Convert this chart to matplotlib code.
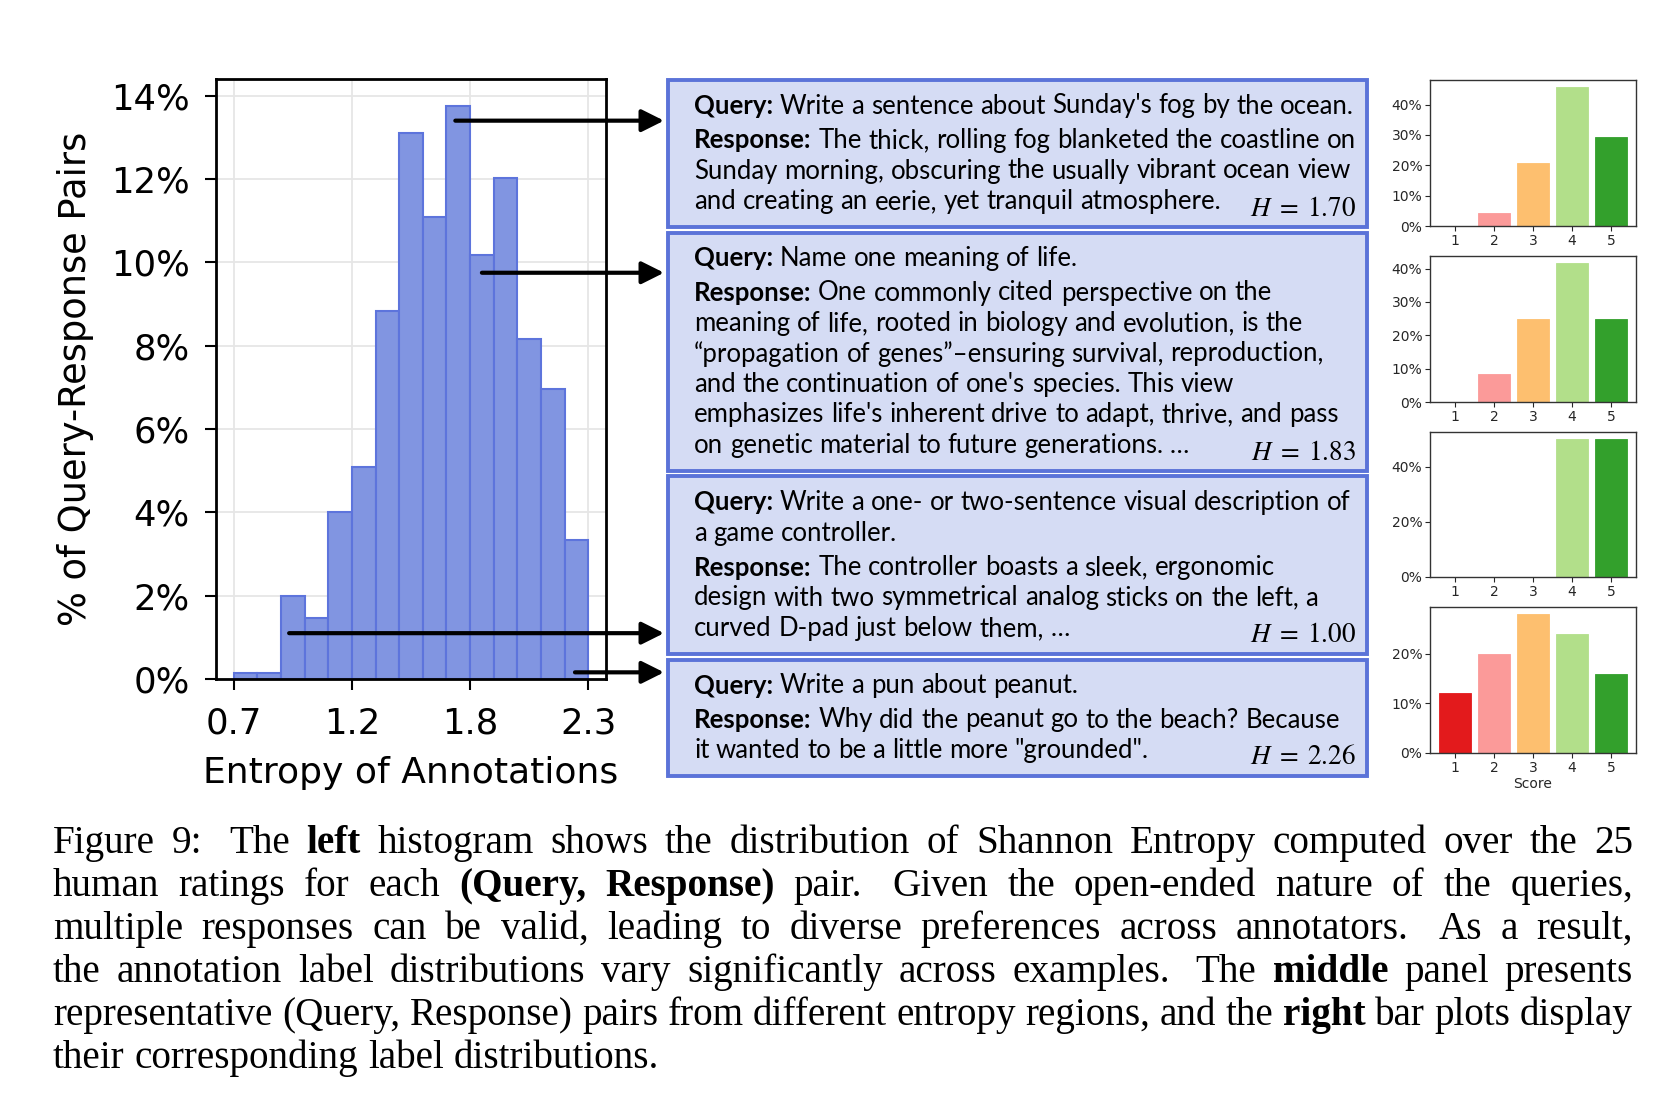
import numpy as np
import matplotlib
matplotlib.use('Agg')
import matplotlib.pyplot as plt
from matplotlib.patches import Rectangle, FancyArrowPatch
from matplotlib.transforms import IdentityTransform

plt.rcParams['mathtext.fontset'] = 'stix'

# ---- data ----
entropy_lo, entropy_hi = 0.7, 2.3
hist_pct = [0.15, 0.15, 2.0, 1.47, 4.02, 5.08, 8.82, 13.1, 11.08, 13.75,
            10.17, 12.02, 8.15, 6.95, 3.34]
hist_yticks = [0, 2, 4, 6, 8, 10, 12, 14]

example_entropy = [1.70, 1.83, 1.00, 2.26]
arrow_start_x = [1.70, 1.82, 0.95, 2.24]
arrow_start_pct = [13.4, 9.75, 1.1, 0.16]

example_lines = [
    ["**Query:** Write a sentence about Sunday's fog by the ocean.",
     "**Response:** The thick, rolling fog blanketed the coastline on",
     "Sunday morning, obscuring the usually vibrant ocean view",
     "and creating an eerie, yet tranquil atmosphere."],
    ["**Query:** Name one meaning of life.",
     "**Response:** One commonly cited perspective on the",
     "meaning of life, rooted in biology and evolution, is the",
     "\u201cpropagation of genes\u201d\u2013ensuring survival, reproduction,",
     "and the continuation of one's species. This view",
     "emphasizes life's inherent drive to adapt, thrive, and pass",
     "on genetic material to future generations. \u2026"],
    ["**Query:** Write a one- or two-sentence visual description of",
     "a game controller.",
     "**Response:** The controller boasts a sleek, ergonomic",
     "design with two symmetrical analog sticks on the left, a",
     "curved D-pad just below them, \u2026"],
    ["**Query:** Write a pun about peanut.",
     "**Response:** Why did the peanut go to the beach? Because",
     "it wanted to be a little more \"grounded\"."],
]

score_labels = [1, 2, 3, 4, 5]
score_colors = ['#e31a1c', '#fb9a99', '#fdbf6f', '#b2df8a', '#33a02c']
score_pct = [
    [0, 4.17, 20.83, 45.83, 29.17],
    [0, 8.33, 25.0, 41.67, 25.0],
    [0, 0, 0, 50.0, 50.0],
    [12, 20, 28, 24, 16],
]
score_yticks = [[0, 10, 20, 30, 40], [0, 10, 20, 30, 40], [0, 20, 40], [0, 10, 20]]

caption_lines = [
    "Figure 9: The **left** histogram shows the distribution of Shannon Entropy computed over the 25",
    "human ratings for each **(Query, Response)** pair. Given the open-ended nature of the queries,",
    "multiple responses can be valid, leading to diverse preferences across annotators. As a result,",
    "the annotation label distributions vary significantly across examples. The **middle** panel presents",
    "representative (Query, Response) pairs from different entropy regions, and the **right** bar plots display",
    "their corresponding label distributions.",
]

# ---- figure ----
W, H = 1660, 1096
fig = plt.figure(figsize=(W / 100, H / 100), dpi=100)
renderer = fig.canvas.get_renderer()


def rect(l, t, r, b):
    return [l / W, 1 - b / H, (r - l) / W, (b - t) / H]


def words_of(line):
    out = []
    for i, part in enumerate(line.split('**')):
        out += [(w, i % 2 == 1) for w in part.split()]
    return out


def width(s, **kw):
    t = fig.text(0, 0, s, **kw)
    w = t.get_window_extent(renderer).width
    t.remove()
    return w


def measure(line, size, family):
    words = words_of(line)
    ws = [width(w, fontsize=size, family=family, fontweight='bold' if b else 'normal')
          for w, b in words]
    space = width('a a', fontsize=size, family=family) - width('aa', fontsize=size, family=family)
    return words, ws, space


def draw_line(line, x0, y, size, family, x1=None, va='center', sentence_gap=1.0):
    words, ws, space = measure(line, size, family)
    weights = [sentence_gap if w.endswith(('.', ':')) else 1.0 for w, _ in words[:-1]]
    unit = space if x1 is None else (x1 - x0 - sum(ws)) / max(sum(weights), 1)
    x = x0
    for i, ((w, b), wd) in enumerate(zip(words, ws)):
        fig.text(x / W, 1 - y / H, w, fontsize=size, family=family,
                 fontweight='bold' if b else 'normal', va=va, ha='left')
        if i < len(weights):
            x += wd + unit * weights[i]


# left histogram
ax = fig.add_axes(rect(216, 79, 606, 679))
edges = np.linspace(entropy_lo, entropy_hi, len(hist_pct) + 1)
ax.bar(edges[:-1], hist_pct, width=np.diff(edges), align='edge',
       color='#8195e1', edgecolor='#5d74dc', linewidth=1.5, zorder=2)
pad = (entropy_hi - entropy_lo) * 0.05
ax.set_xlim(entropy_lo - pad, entropy_hi + pad)
ax.set_ylim(0, 14.4)
xt = np.linspace(entropy_lo, entropy_hi, 4)
ax.set_xticks(xt, [f'{t:.1f}' for t in xt])
ax.set_yticks(hist_yticks, [f'{t}%' for t in hist_yticks])
ax.grid(True, color='#e6e6e6', linewidth=1.3, zorder=0)
ax.set_axisbelow(True)
ax.tick_params(labelsize=25.5, length=8, width=1.5, pad=11)
ax.tick_params(axis='x', pad=12)
for s in ax.spines.values():
    s.set_linewidth(2)
ax.set_xlabel('Entropy of Annotations', fontsize=26, labelpad=11)
ax.set_ylabel('% of Query-Response Pairs', fontsize=26.5, labelpad=12)

# middle: example boxes
box_left, box_right = 668, 1367
text_x, h_right = 694, 1356
family = ['Lato', 'DejaVu Sans']
_, ref_ws, ref_space = measure(example_lines[0][1], 20, family)
box_size = 20 * 662 / (sum(ref_ws) + ref_space * (len(ref_ws) - 1))

top = 80
for lines, h in zip(example_lines, example_entropy):
    ys = []
    y = top + 26
    for j, line in enumerate(lines):
        if j > 0:
            y += 34.5 if line.startswith('**Response') else 30.5
        ys.append(y)
    bottom = y + 25
    fig.add_artist(Rectangle((box_left / W, 1 - bottom / H), (box_right - box_left) / W,
                             (bottom - top) / H, transform=fig.transFigure,
                             facecolor='#d5dcf4', edgecolor='#5b73d8', linewidth=2.8))
    for line, yy in zip(lines, ys):
        draw_line(line, text_x, yy, box_size, family)
    fig.text(h_right / W, 1 - (bottom - 18) / H, f'$H\\;=\\;{h:.2f}$', fontsize=19.5,
             ha='right', va='center')
    top = bottom + 6

# arrows from histogram to boxes
for x, p in zip(arrow_start_x, arrow_start_pct):
    sx, sy = ax.transData.transform((x, p))
    fig.add_artist(FancyArrowPatch((sx, sy), (box_left - 4, sy), transform=IdentityTransform(),
                                   arrowstyle='-|>,head_length=0.9,head_width=0.45',
                                   mutation_scale=15, lw=3, color='black',
                                   shrinkA=0, shrinkB=0, zorder=5))

# right: score distributions
score_boxes = [(1430, 80, 1636, 226), (1430, 256, 1636, 402),
               (1430, 432, 1636, 577), (1430, 607, 1636, 753)]
for k, (pct, yt, b) in enumerate(zip(score_pct, score_yticks, score_boxes)):
    bx = fig.add_axes(rect(*b))
    bx.bar(score_labels, pct, color=score_colors, width=0.8,
           edgecolor=score_colors, linewidth=0.6)
    bx.set_xticks(score_labels)
    bx.set_yticks(yt, [f'{t}%' for t in yt])
    bx.tick_params(labelsize=10, length=3.5, width=0.8, colors='#262626', pad=2)
    for s in bx.spines.values():
        s.set_linewidth(1)
        s.set_color('#333333')
    if k == len(score_pct) - 1:
        bx.set_xlabel('Score', fontsize=10, labelpad=2, color='#262626')

# caption
cap_family = ['Liberation Serif', 'DejaVu Serif']
for i, line in enumerate(caption_lines):
    y = 853 + i * 43
    x1 = 1633 if i < len(caption_lines) - 1 else None
    draw_line(line, 53, y, 28.2, cap_family, x1=x1, va='baseline', sentence_gap=1.6)

fig.savefig('out.png', dpi=100)
